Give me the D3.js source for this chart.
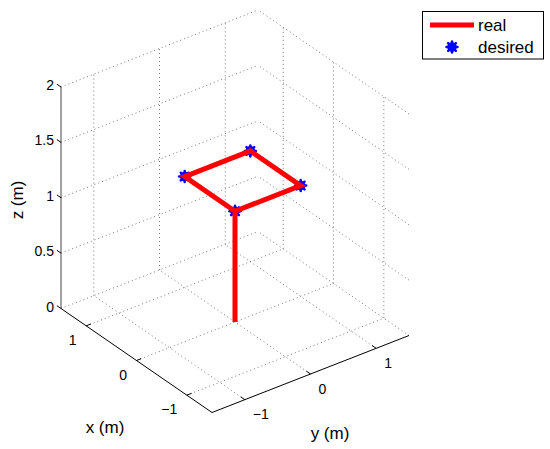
<!DOCTYPE html>
<html>
<head>
<meta charset="utf-8">
<script src="https://cdn.jsdelivr.net/npm/d3@7"></script>
<style>
  html, body { margin: 0; padding: 0; background: #fff; }
  svg { display: block; font-family: "Liberation Sans", Arial, sans-serif; }
</style>
</head>
<body>
<svg id="chart" width="550" height="449"></svg>
<script>
// ---- data ----
const realX = [0, 0, 0, 1, 1, 0];
const realY = [0, 0, 1, 1, 0, 0];
const realZ = [0, 1, 1, 1, 1, 1];
const desiredX = [0, 0, 1, 1];
const desiredY = [0, 1, 1, 0];
const desiredZ = [1, 1, 1, 1];
const xTicks = [-1, 0, 1];
const yTicks = [-1, 0, 1];
const zTicks = [0, 0.5, 1, 1.5, 2];
const xDomain = [-1.5, 1.5];
const yDomain = [-1.5, 1.5];
const zDomain = [0, 2];
const legendLabels = ["real", "desired"];

// ---- projection built from linear scales ----
const O = [212, 412.5];            // screen point of (xmin, ymin, zmin)
const Vx = [-151, -104];            // screen vector spanning the x range
const Vy = [197, -77];              // screen vector spanning the y range
const Vz = [0, -221.5];             // screen vector spanning the z range
const sx = d3.scaleLinear().domain(xDomain).range([0, 1]);
const sy = d3.scaleLinear().domain(yDomain).range([0, 1]);
const sz = d3.scaleLinear().domain(zDomain).range([0, 1]);
function P(x, y, z) {
  const a = sx(x), b = sy(y), c = sz(z);
  return [O[0] + a * Vx[0] + b * Vy[0] + c * Vz[0],
          O[1] + a * Vx[1] + b * Vy[1] + c * Vz[1]];
}
function unit(v) { const l = Math.hypot(v[0], v[1]); return [v[0] / l, v[1] / l]; }
const ux = unit(Vx), uy = unit(Vy);

const svg = d3.select("#chart");
const line = d3.line();
const xMin = xDomain[0], xMax = xDomain[1], yMin = yDomain[0], yMax = yDomain[1];
const zMin = zDomain[0], zMax = zDomain[1];

// ---- grid ----
const grid = svg.append("g").attr("fill", "none").attr("stroke", "#7a7a7a")
  .attr("stroke-width", 1).attr("stroke-dasharray", "1,3");
const gridSegs = [];
// wall x = xMax
yTicks.forEach(t => gridSegs.push([P(xMax, t, zMin), P(xMax, t, zMax)]));
zTicks.forEach(t => gridSegs.push([P(xMax, yMin, t), P(xMax, yMax, t)]));
// wall y = yMax
xTicks.forEach(t => gridSegs.push([P(t, yMax, zMin), P(t, yMax, zMax)]));
zTicks.forEach(t => gridSegs.push([P(xMin, yMax, t), P(xMax, yMax, t)]));
// floor z = zMin
xTicks.forEach(t => gridSegs.push([P(t, yMin, zMin), P(t, yMax, zMin)]));
yTicks.forEach(t => gridSegs.push([P(xMin, t, zMin), P(xMax, t, zMin)]));
grid.selectAll("path").data(gridSegs).join("path").attr("d", d => line(d));

// ---- axes ----
const axes = svg.append("g").attr("stroke", "#000").attr("stroke-width", 1).attr("fill", "none");
axes.append("path").attr("d", line([P(xMax, yMin, zMin), P(xMax, yMin, zMax)])).attr("stroke", "#444"); // z axis
axes.append("path").attr("d", line([P(xMax, yMin, zMin), P(xMin, yMin, zMin)])); // x axis
axes.append("path").attr("d", line([P(xMin, yMin, zMin), P(xMin, yMax, zMin)])); // y axis
const tl = 5;
zTicks.forEach(t => { const p = P(xMax, yMin, t);
  axes.append("path").attr("d", line([p, [p[0] + ux[0] * tl, p[1] + ux[1] * tl]])); });
xTicks.forEach(t => { const p = P(t, yMin, zMin);
  axes.append("path").attr("d", line([p, [p[0] + uy[0] * tl, p[1] + uy[1] * tl]])); });
yTicks.forEach(t => { const p = P(xMin, t, zMin);
  axes.append("path").attr("d", line([p, [p[0] + ux[0] * tl, p[1] + ux[1] * tl]])); });

const fmt = v => (v < 0 ? "\u2212" + Math.abs(v) : String(v));
const labels = svg.append("g").attr("fill", "#000").attr("font-size", 14);
zTicks.forEach(t => { const p = P(xMax, yMin, t);
  labels.append("text").attr("x", p[0] - 7).attr("y", p[1] + 3).attr("text-anchor", "end").text(fmt(t)); });
xTicks.forEach(t => { const p = P(t, yMin, zMin);
  labels.append("text").attr("x", p[0] - 9.5).attr("y", p[1] + 19).attr("text-anchor", "end").text(fmt(t)); });
yTicks.forEach(t => { const p = P(xMin, t, zMin);
  labels.append("text").attr("x", p[0] + 8).attr("y", p[1] + 19.5).attr("text-anchor", "start").text(fmt(t)); });

// axis titles
svg.append("text").attr("font-size", 17).attr("text-anchor", "middle")
  .attr("transform", "translate(23,200) rotate(-90)").text("z (m)");
svg.append("text").attr("font-size", 17).attr("text-anchor", "middle")
  .attr("x", 105).attr("y", 433).text("x (m)");
svg.append("text").attr("font-size", 17).attr("text-anchor", "middle")
  .attr("x", 330).attr("y", 439).text("y (m)");

// ---- marker ----
function starMarker(g, cx, cy) {
  const r = 5.5;
  const m = g.append("g").attr("stroke", "#0000ff").attr("stroke-width", 2.5).attr("stroke-linecap", "round");
  [[r, 0], [0, r], [r * 0.7, r * 0.7], [r * 0.7, -r * 0.7]].forEach(d => {
    m.append("line").attr("x1", cx - d[0]).attr("y1", cy - d[1]).attr("x2", cx + d[0]).attr("y2", cy + d[1]);
  });
  g.append("circle").attr("cx", cx).attr("cy", cy).attr("r", 4.8).attr("fill", "#0000ff");
}

// desired markers
const markers = svg.append("g");
desiredX.forEach((x, i) => { const p = P(x, desiredY[i], desiredZ[i]); starMarker(markers, p[0], p[1]); });

// real trajectory
const realPts = realX.map((x, i) => P(x, realY[i], realZ[i]));
svg.append("path").attr("d", line(realPts)).attr("fill", "none")
  .attr("stroke", "#ff0000").attr("stroke-width", 5).attr("stroke-linejoin", "miter");

// ---- legend ----
const lg = svg.append("g");
lg.append("rect").attr("x", 422.5).attr("y", 11.5).attr("width", 121).attr("height", 47.5)
  .attr("fill", "#fff").attr("stroke", "#000").attr("stroke-width", 1);
lg.append("line").attr("x1", 430).attr("x2", 474).attr("y1", 25).attr("y2", 25)
  .attr("stroke", "#ff0000").attr("stroke-width", 5);
starMarker(lg, 452, 47);
lg.append("text").attr("x", 478).attr("y", 31).attr("font-size", 17).text(legendLabels[0]);
lg.append("text").attr("x", 478).attr("y", 53).attr("font-size", 17).text(legendLabels[1]);
</script>
</body>
</html>
